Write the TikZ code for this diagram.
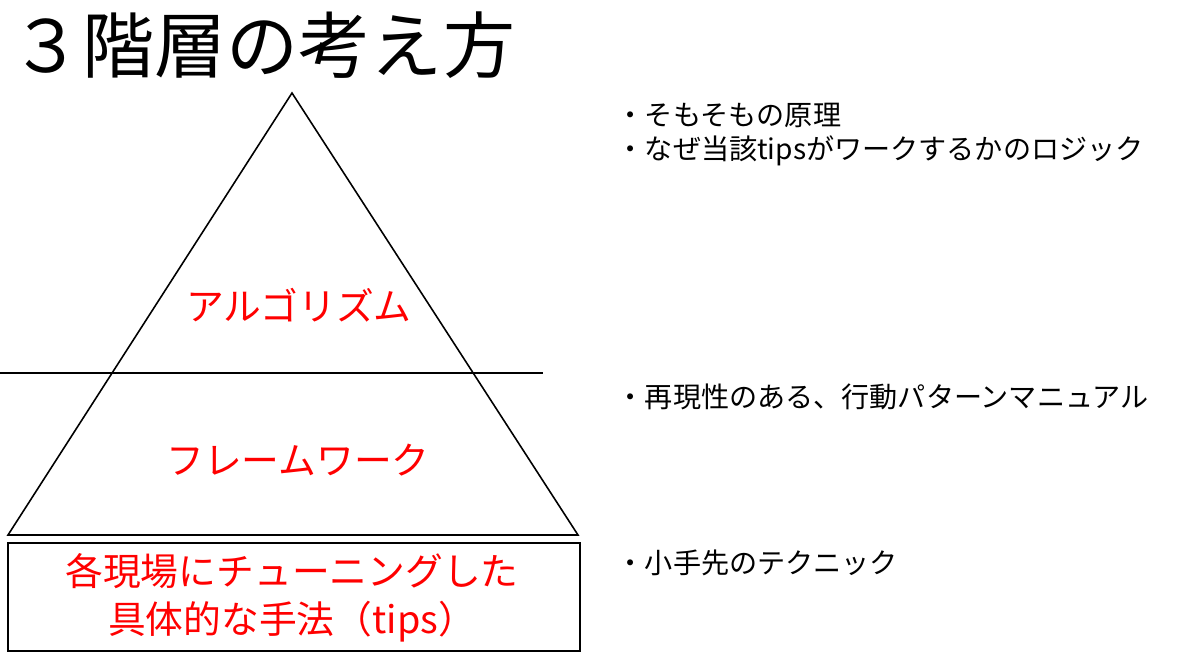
\documentclass[tikz,border=0pt]{standalone}
\usepackage{fontspec}
\setmainfont{Noto Sans CJK JP}
\usetikzlibrary{positioning}

\begin{document}
\begin{tikzpicture}[
        x=0.02cm,
        y=-0.02cm,
        line width=0.9pt,
        every node/.style={inner sep=0pt},
        layer/.style={text=red, font=\fontsize{21.5}{27}\selectfont, align=center},
        note/.style={anchor=west, font=\fontsize{16}{20}\selectfont}
    ]
    \useasboundingbox (0,0) rectangle (1200,663);
    \node[anchor=west, font=\fontsize{41}{46}\selectfont] (title) at (10,45) {３階層の考え方};
    % pyramid
    \coordinate (apex) at (292,93);
    \coordinate (bl) at (8,535);
    \coordinate (br) at (578,535);
    \draw (bl) -- (apex) -- (br) -- cycle;
    \coordinate (cutl) at (0,373);
    \coordinate (cutr) at (543,373);
    \draw (cutl) -- (cutr);
    \draw (8,543) rectangle (580,651);
    \node[layer] (algo) at (299,305) {アルゴリズム};
    \node[layer] (frame) at (298,460) {フレームワーク};
    \node[layer] (tips) at (292,598) {各現場にチューニングした\\具体的な手法（tips）};
    % notes
    \node[note] (n1) at (616,115) {・そもそもの原理};
    \node[note] (n2) at (616,151) {・なぜ当該tipsがワークするかのロジック};
    \node[note] (n3) at (616,397) {・再現性のある、行動パターンマニュアル};
    \node[note] (n4) at (616,563) {・小手先のテクニック};
\end{tikzpicture}
\end{document}
